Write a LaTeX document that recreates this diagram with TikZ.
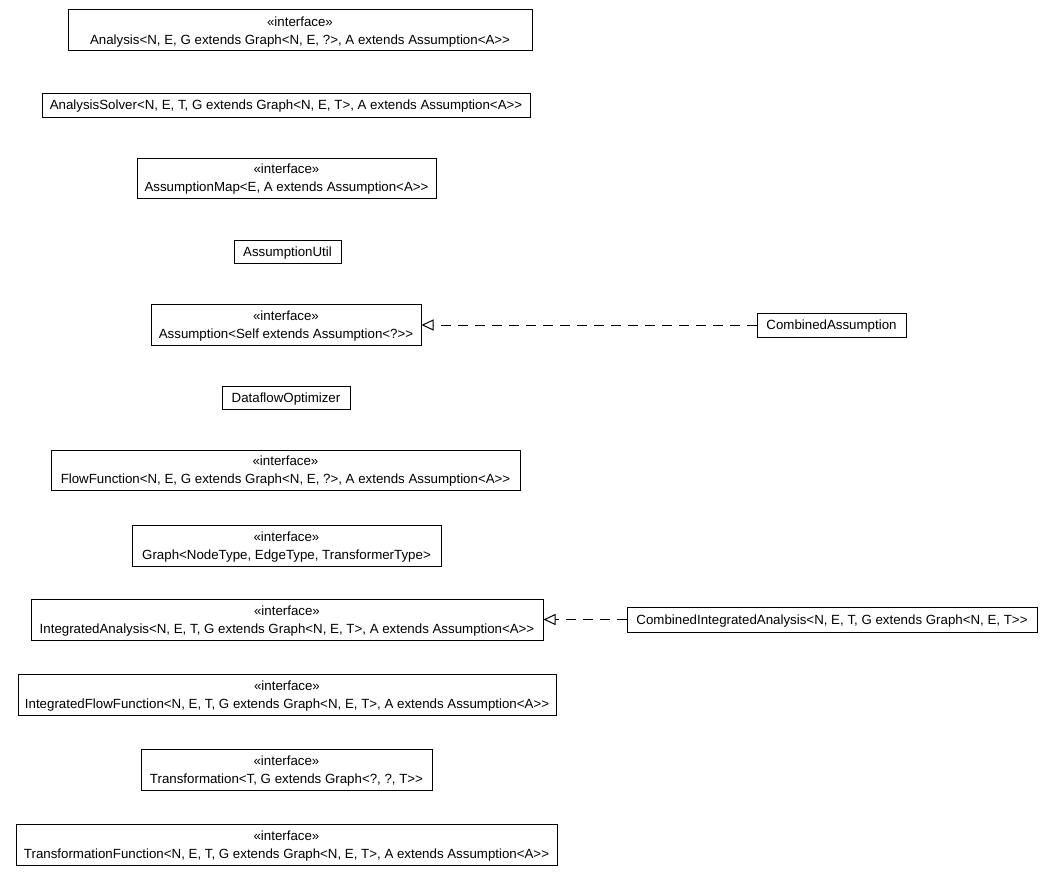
\documentclass[tikz,border=0pt]{standalone}
\usepackage{fontspec}
\setmainfont{Liberation Sans}[Ligatures=TeXOff]
\usetikzlibrary{arrows.meta}
\newcommand{\clstext}[1]{\raisebox{-1.2pt}[\height][\depth]{\begin{tabular}{@{}c@{}}#1\end{tabular}}}
\tikzset{
  cls/.style={draw=black, line width=1pt, fill=white, inner sep=0pt, align=center,
    font=\fontsize{13.3}{18}\selectfont},
  realize/.style={draw=black, line width=1pt, dash pattern=on 10pt off 7pt,
    -{Triangle[open, length=12pt, width=11pt, fill=white]}}
}
\begin{document}
\begin{tikzpicture}[x=1pt,y=-1pt]
\useasboundingbox (0,0) rectangle (1052,875);
\node[cls, minimum width=464pt, minimum height=41pt] (an) at (300,30.5) {\clstext{«interface»\\Analysis<N, E, G extends Graph<N, E, ?>, A extends Assumption<A>>}};
\node[cls, minimum width=488pt, minimum height=24pt] (solver) at (286,105) {\clstext{AnalysisSolver<N, E, T, G extends Graph<N, E, T>, A extends Assumption<A>>}};
\node[cls, minimum width=299pt, minimum height=40pt] (amap) at (286.5,178) {\clstext{«interface»\\AssumptionMap<E, A extends Assumption<A>>}};
\node[cls, minimum width=107pt, minimum height=23pt] (autil) at (287.5,251.5) {\clstext{AssumptionUtil}};
\node[cls, minimum width=270pt, minimum height=41pt] (assump) at (286,324.5) {\clstext{«interface»\\Assumption<Self extends Assumption<?>>}};
\node[cls, minimum width=149pt, minimum height=24pt] (comb) at (831.5,325) {\clstext{CombinedAssumption}};
\node[cls, minimum width=128pt, minimum height=23pt] (dfo) at (286,397.5) {\clstext{DataflowOptimizer}};
\node[cls, minimum width=469pt, minimum height=40pt] (flow) at (285.5,470) {\clstext{«interface»\\FlowFunction<N, E, G extends Graph<N, E, ?>, A extends Assumption<A>>}};
\node[cls, minimum width=309pt, minimum height=41pt] (graph) at (286.5,545.5) {\clstext{«interface»\\Graph<NodeType, EdgeType, TransformerType>}};
\node[cls, minimum width=512pt, minimum height=41pt] (ia) at (287,619.5) {\clstext{«interface»\\IntegratedAnalysis<N, E, T, G extends Graph<N, E, T>, A extends Assumption<A>>}};
\node[cls, minimum width=410pt, minimum height=25pt] (cia) at (832,619.5) {\clstext{CombinedIntegratedAnalysis<N, E, T, G extends Graph<N, E, T>>}};
\node[cls, minimum width=538pt, minimum height=41pt] (iff) at (287,694.5) {\clstext{«interface»\\IntegratedFlowFunction<N, E, T, G extends Graph<N, E, T>, A extends Assumption<A>>}};
\node[cls, minimum width=291pt, minimum height=41pt] (trans) at (286.5,769.5) {\clstext{«interface»\\Transformation<T, G extends Graph<?, ?, T>>}};
\node[cls, minimum width=541pt, minimum height=41pt] (tf) at (286.5,844.5) {\clstext{«interface»\\TransformationFunction<N, E, T, G extends Graph<N, E, T>, A extends Assumption<A>>}};
\draw[realize] (comb.west) -- (comb.west -| assump.east);
\draw[realize] (cia.west) -- (cia.west -| ia.east);
\end{tikzpicture}
\end{document}
